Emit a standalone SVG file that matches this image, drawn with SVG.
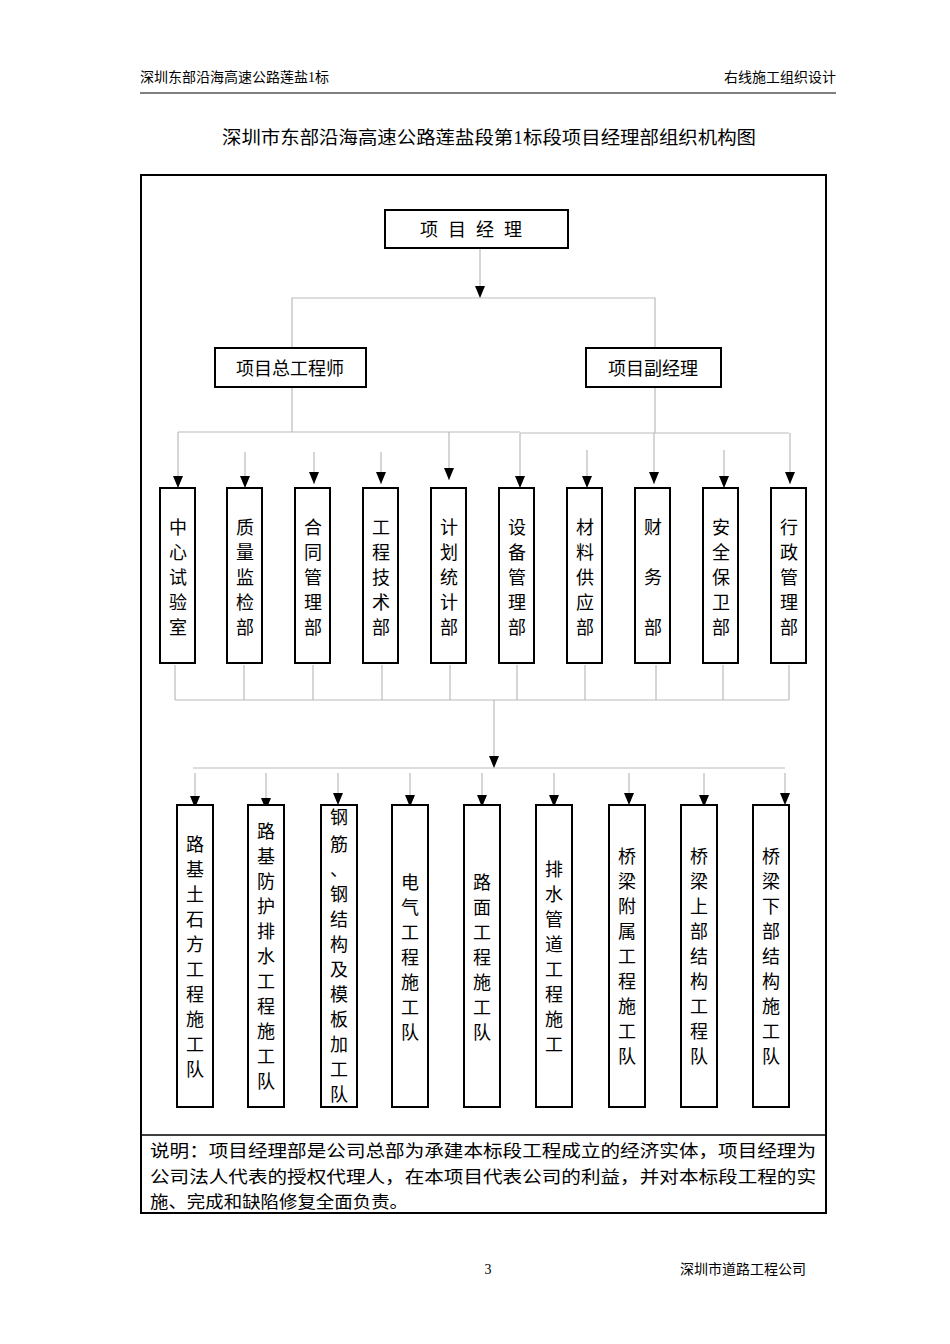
<svg xmlns="http://www.w3.org/2000/svg" width="950" height="1344" viewBox="0 0 950 1344">
<style>
text{font-family:"Liberation Serif","Noto Sans CJK SC",serif;fill:#000}
.b{fill:#fff;stroke:#000;stroke-width:2}
.v{font-size:18px;text-anchor:middle}
.c line,.c polyline{stroke:#bbb;stroke-width:1.2;fill:none}
</style>
<defs><marker id="a" markerWidth="12" markerHeight="10" refX="12" refY="5" orient="auto" markerUnits="userSpaceOnUse" viewBox="0 0 12 10"><path d="M0,0L12,5L0,10Z" fill="#000"/></marker></defs>
<rect width="950" height="1344" fill="#fff"/>
<text x="140" y="82" font-size="14">深圳东部沿海高速公路莲盐1标</text>
<text x="836" y="82" font-size="14" text-anchor="end">右线施工组织设计</text>
<line x1="140" y1="93" x2="836" y2="93" stroke="#000" stroke-width="1.2"/>
<text x="222" y="144" font-size="18" textLength="534" lengthAdjust="spacingAndGlyphs">深圳市东部沿海高速公路莲盐段第1标段项目经理部组织机构图</text>
<rect x="141" y="175" width="685" height="1038" fill="none" stroke="#000" stroke-width="2"/>
<line x1="141" y1="1135" x2="826" y2="1135" stroke="#000" stroke-width="1.5"/>
<text font-size="17"><tspan x="150" y="1157" textLength="666" lengthAdjust="spacingAndGlyphs">说明：项目经理部是公司总部为承建本标段工程成立的经济实体，项目经理为</tspan><tspan x="150" y="1183" textLength="666" lengthAdjust="spacingAndGlyphs">公司法人代表的授权代理人，在本项目代表公司的利益，并对本标段工程的实</tspan><tspan x="150" y="1208" textLength="258" lengthAdjust="spacingAndGlyphs">施、完成和缺陷修复全面负责。</tspan></text>
<text x="488" y="1274" font-size="14" text-anchor="middle">3</text>
<text x="806" y="1274" font-size="14" text-anchor="end">深圳市道路工程公司</text>
<g class="c">
<line x1="480" y1="248" x2="480" y2="298" marker-end="url(#a)"/>
<polyline points="292,348 292,298 655,298 655,348"/>
<line x1="292" y1="387" x2="292" y2="432"/>
<line x1="655" y1="387" x2="655" y2="433"/>
<line x1="178" y1="432" x2="520" y2="432"/>
<line x1="520" y1="433" x2="789" y2="433"/>
<line x1="178" y1="432" x2="178" y2="488" marker-end="url(#a)"/>
<line x1="245" y1="452" x2="245" y2="488" marker-end="url(#a)"/>
<line x1="314" y1="452" x2="314" y2="484" marker-end="url(#a)"/>
<line x1="381" y1="452" x2="381" y2="484" marker-end="url(#a)"/>
<line x1="449" y1="432" x2="449" y2="480" marker-end="url(#a)"/>
<line x1="520" y1="433" x2="520" y2="488" marker-end="url(#a)"/>
<line x1="587" y1="450" x2="587" y2="488" marker-end="url(#a)"/>
<line x1="654" y1="433" x2="654" y2="484" marker-end="url(#a)"/>
<line x1="724" y1="450" x2="724" y2="488" marker-end="url(#a)"/>
<line x1="790" y1="433" x2="790" y2="484" marker-end="url(#a)"/>
<line x1="175" y1="700" x2="789" y2="700"/>
<line x1="175" y1="665" x2="175" y2="700"/><line x1="244" y1="665" x2="244" y2="700"/><line x1="313" y1="665" x2="313" y2="700"/><line x1="382" y1="665" x2="382" y2="700"/><line x1="450" y1="665" x2="450" y2="700"/><line x1="517" y1="665" x2="517" y2="700"/><line x1="585" y1="665" x2="585" y2="700"/><line x1="656" y1="665" x2="656" y2="700"/><line x1="723" y1="665" x2="723" y2="700"/><line x1="789" y1="665" x2="789" y2="700"/>
<line x1="494" y1="700" x2="494" y2="768" marker-end="url(#a)"/>
<line x1="193" y1="768" x2="785" y2="768"/>
<line x1="195" y1="773" x2="195" y2="808" marker-end="url(#a)"/>
<line x1="266" y1="773" x2="266" y2="810" marker-end="url(#a)"/>
<line x1="338" y1="773" x2="338" y2="805" marker-end="url(#a)"/>
<line x1="410" y1="773" x2="410" y2="807" marker-end="url(#a)"/>
<line x1="482" y1="773" x2="482" y2="807" marker-end="url(#a)"/>
<line x1="554" y1="773" x2="554" y2="807" marker-end="url(#a)"/>
<line x1="629" y1="773" x2="629" y2="805" marker-end="url(#a)"/>
<line x1="704" y1="773" x2="704" y2="807" marker-end="url(#a)"/>
<line x1="785" y1="773" x2="785" y2="805" marker-end="url(#a)"/>
</g>
<g id="pm"><rect class="b" x="385" y="210" width="183" height="38"/><text x="476" y="236" font-size="18" text-anchor="middle" letter-spacing="10">项目经理</text></g>
<g id="chief"><rect class="b" x="215" y="348" width="151" height="39"/><text x="290" y="375" font-size="18" text-anchor="middle">项目总工程师</text></g>
<g id="deputy"><rect class="b" x="586" y="348" width="135" height="39"/><text x="653" y="375" font-size="18" text-anchor="middle">项目副经理</text></g>
<g id="d1"><rect class="b" x="160" y="488" width="35" height="175"/><text class="v"><tspan x="178" y="534">中</tspan><tspan x="178" y="559">心</tspan><tspan x="178" y="584">试</tspan><tspan x="178" y="609">验</tspan><tspan x="178" y="634">室</tspan></text></g>
<g id="d2"><rect class="b" x="227" y="488" width="35" height="175"/><text class="v"><tspan x="245" y="534">质</tspan><tspan x="245" y="559">量</tspan><tspan x="245" y="584">监</tspan><tspan x="245" y="609">检</tspan><tspan x="245" y="634">部</tspan></text></g>
<g id="d3"><rect class="b" x="295" y="488" width="35" height="175"/><text class="v"><tspan x="313" y="534">合</tspan><tspan x="313" y="559">同</tspan><tspan x="313" y="584">管</tspan><tspan x="313" y="609">理</tspan><tspan x="313" y="634">部</tspan></text></g>
<g id="d4"><rect class="b" x="363" y="488" width="35" height="175"/><text class="v"><tspan x="381" y="534">工</tspan><tspan x="381" y="559">程</tspan><tspan x="381" y="584">技</tspan><tspan x="381" y="609">术</tspan><tspan x="381" y="634">部</tspan></text></g>
<g id="d5"><rect class="b" x="431" y="488" width="35" height="175"/><text class="v"><tspan x="449" y="534">计</tspan><tspan x="449" y="559">划</tspan><tspan x="449" y="584">统</tspan><tspan x="449" y="609">计</tspan><tspan x="449" y="634">部</tspan></text></g>
<g id="d6"><rect class="b" x="499" y="488" width="35" height="175"/><text class="v"><tspan x="517" y="534">设</tspan><tspan x="517" y="559">备</tspan><tspan x="517" y="584">管</tspan><tspan x="517" y="609">理</tspan><tspan x="517" y="634">部</tspan></text></g>
<g id="d7"><rect class="b" x="567" y="488" width="35" height="175"/><text class="v"><tspan x="585" y="534">材</tspan><tspan x="585" y="559">料</tspan><tspan x="585" y="584">供</tspan><tspan x="585" y="609">应</tspan><tspan x="585" y="634">部</tspan></text></g>
<g id="d8"><rect class="b" x="635" y="488" width="35" height="175"/><text class="v"><tspan x="653" y="534">财</tspan><tspan x="653" y="584">务</tspan><tspan x="653" y="634">部</tspan></text></g>
<g id="d9"><rect class="b" x="703" y="488" width="35" height="175"/><text class="v"><tspan x="721" y="534">安</tspan><tspan x="721" y="559">全</tspan><tspan x="721" y="584">保</tspan><tspan x="721" y="609">卫</tspan><tspan x="721" y="634">部</tspan></text></g>
<g id="d10"><rect class="b" x="771" y="488" width="35" height="175"/><text class="v"><tspan x="789" y="534">行</tspan><tspan x="789" y="559">政</tspan><tspan x="789" y="584">管</tspan><tspan x="789" y="609">理</tspan><tspan x="789" y="634">部</tspan></text></g>
<g id="t1"><rect class="b" x="177" y="805" width="36" height="302"/><text class="v"><tspan x="195" y="851">路</tspan><tspan x="195" y="876">基</tspan><tspan x="195" y="901">土</tspan><tspan x="195" y="926">石</tspan><tspan x="195" y="951">方</tspan><tspan x="195" y="976">工</tspan><tspan x="195" y="1001">程</tspan><tspan x="195" y="1026">施</tspan><tspan x="195" y="1051">工</tspan><tspan x="195" y="1076">队</tspan></text></g>
<g id="t2"><rect class="b" x="248" y="805" width="36" height="302"/><text class="v"><tspan x="266" y="838">路</tspan><tspan x="266" y="863">基</tspan><tspan x="266" y="888">防</tspan><tspan x="266" y="913">护</tspan><tspan x="266" y="938">排</tspan><tspan x="266" y="963">水</tspan><tspan x="266" y="988">工</tspan><tspan x="266" y="1013">程</tspan><tspan x="266" y="1038">施</tspan><tspan x="266" y="1063">工</tspan><tspan x="266" y="1088">队</tspan></text></g>
<g id="t3"><rect class="b" x="321" y="805" width="36" height="302"/><text class="v"><tspan x="339" y="824">钢</tspan><tspan x="339" y="851">筋</tspan><tspan x="339" y="876">、</tspan><tspan x="339" y="901">钢</tspan><tspan x="339" y="926">结</tspan><tspan x="339" y="951">构</tspan><tspan x="339" y="976">及</tspan><tspan x="339" y="1001">模</tspan><tspan x="339" y="1026">板</tspan><tspan x="339" y="1051">加</tspan><tspan x="339" y="1076">工</tspan><tspan x="339" y="1101">队</tspan></text></g>
<g id="t4"><rect class="b" x="392" y="805" width="36" height="302"/><text class="v"><tspan x="410" y="889">电</tspan><tspan x="410" y="914">气</tspan><tspan x="410" y="939">工</tspan><tspan x="410" y="964">程</tspan><tspan x="410" y="989">施</tspan><tspan x="410" y="1014">工</tspan><tspan x="410" y="1039">队</tspan></text></g>
<g id="t5"><rect class="b" x="464" y="805" width="36" height="302"/><text class="v"><tspan x="482" y="889">路</tspan><tspan x="482" y="914">面</tspan><tspan x="482" y="939">工</tspan><tspan x="482" y="964">程</tspan><tspan x="482" y="989">施</tspan><tspan x="482" y="1014">工</tspan><tspan x="482" y="1039">队</tspan></text></g>
<g id="t6"><rect class="b" x="536" y="805" width="36" height="302"/><text class="v"><tspan x="554" y="876">排</tspan><tspan x="554" y="901">水</tspan><tspan x="554" y="926">管</tspan><tspan x="554" y="951">道</tspan><tspan x="554" y="976">工</tspan><tspan x="554" y="1001">程</tspan><tspan x="554" y="1026">施</tspan><tspan x="554" y="1051">工</tspan></text></g>
<g id="t7"><rect class="b" x="609" y="805" width="36" height="302"/><text class="v"><tspan x="627" y="863">桥</tspan><tspan x="627" y="888">梁</tspan><tspan x="627" y="913">附</tspan><tspan x="627" y="938">属</tspan><tspan x="627" y="963">工</tspan><tspan x="627" y="988">程</tspan><tspan x="627" y="1013">施</tspan><tspan x="627" y="1038">工</tspan><tspan x="627" y="1063">队</tspan></text></g>
<g id="t8"><rect class="b" x="681" y="805" width="36" height="302"/><text class="v"><tspan x="699" y="863">桥</tspan><tspan x="699" y="888">梁</tspan><tspan x="699" y="913">上</tspan><tspan x="699" y="938">部</tspan><tspan x="699" y="963">结</tspan><tspan x="699" y="988">构</tspan><tspan x="699" y="1013">工</tspan><tspan x="699" y="1038">程</tspan><tspan x="699" y="1063">队</tspan></text></g>
<g id="t9"><rect class="b" x="753" y="805" width="36" height="302"/><text class="v"><tspan x="771" y="863">桥</tspan><tspan x="771" y="888">梁</tspan><tspan x="771" y="913">下</tspan><tspan x="771" y="938">部</tspan><tspan x="771" y="963">结</tspan><tspan x="771" y="988">构</tspan><tspan x="771" y="1013">施</tspan><tspan x="771" y="1038">工</tspan><tspan x="771" y="1063">队</tspan></text></g>
</svg>
